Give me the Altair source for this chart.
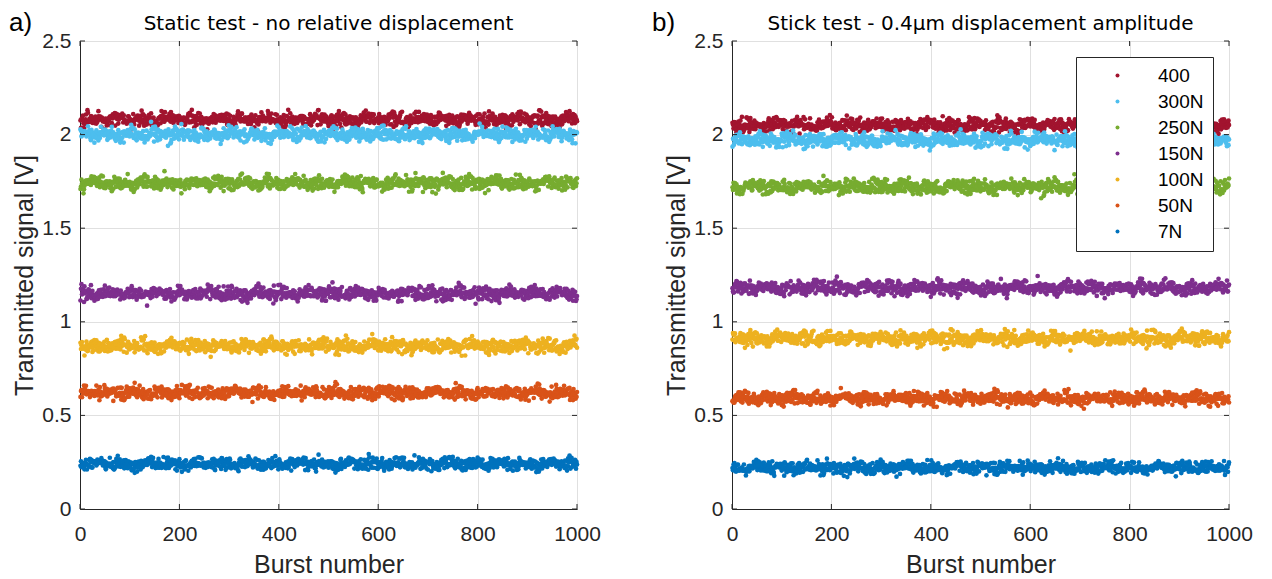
import altair as alt
import pandas as pd

# ---- data ----
SERIES = ["400", "300N", "250N", "150N", "100N", "50N", "7N"]
COLORS = ["#A2142F", "#4DBEEE", "#77AC30", "#7E2F8E", "#EDB120", "#D95319", "#0072BD"]
LEVELS_STATIC = [2.08, 2.00, 1.74, 1.15, 0.87, 0.62, 0.24]
LEVELS_STICK = [2.05, 1.97, 1.72, 1.18, 0.91, 0.59, 0.22]
SPREAD = [0.019, 0.019, 0.019, 0.019, 0.019, 0.018, 0.017]
N_BURSTS = 1000
X_TICKS = [0, 200, 400, 600, 800, 1000]
Y_TICKS = [0, 0.5, 1, 1.5, 2, 2.5]
TITLES = ["Static test - no relative displacement", "Stick test - 0.4\u03bcm displacement amplitude"]
LETTERS = ["a)", "b)"]
# hand-typed scatter deviations (in units of the band spread)
DEV = [
    0.31, -1.18, 0.77, -0.12, 1.46, -0.69, 0.04, -1.87, 0.58, 1.09,
    -0.41, 0.22, -0.93, 1.81, -0.27, 0.49, -1.42, 0.88, -0.61, 0.13,
    2.27, -0.19, -1.07, 0.71, -0.52, 1.29, -0.83, 0.38, -1.58, 0.02,
    0.97, -0.33, 0.63, -2.12, 0.18, 1.37, -0.88, -0.08, 0.81, -1.31,
    0.27, 1.69, -0.57, 0.46, -0.24, -0.99, 1.17, -0.44, 0.09, -1.66,
    0.91, 0.41, -0.72, 1.98, -0.47, -0.02, -1.21, 0.68, 1.12, -0.79,
    0.16, -0.36, 1.57, -1.49, 0.53, -0.11, 0.86, -0.64, -2.38, 1.26,
    0.34, -0.91, 0.59, -0.21, 1.02, -1.13, 0.07, 0.79, -0.38, 1.89,
    -0.74, 0.44, -1.77, 0.24, -0.54, 1.21, -0.14, 0.66, -1.02, -0.05,
    1.51, -0.29, -1.39, 0.61, -0.81, 1.06, 0.29, -0.58, 2.55, -0.16, 0.12,
]

W, H = 497, 468
INK = "#262626"
FONT = "Liberation Sans"
TITLE_FONT = "DejaVu Sans"


def build_points(levels, panel_no):
    n = len(DEV)
    rows = []
    for k, (name, lvl, sp) in enumerate(zip(SERIES, levels, SPREAD)):
        for i in range(N_BURSTS):
            a = DEV[(i * 7 + k * 13 + panel_no * 3) % n]
            b = DEV[(i * 11 + (i // n) * 17 + k * 29 + 5 + panel_no * 41) % n]
            rows.append({"burst": i + 1, "v": lvl + sp * (0.75 * a + 0.66 * b), "series": name})
    return pd.DataFrame(rows)


def panel(levels, idx, show_legend):
    df = build_points(levels, idx)
    if show_legend:
        leg = alt.Legend(
            title=None, orient="none", legendX=344, legendY=16,
            strokeColor=INK, fillColor="white", padding=9,
            symbolType="circle", symbolSize=16, symbolOffset=23,
            labelOffset=31, labelFontSize=19, labelFont=FONT,
            labelColor="black", rowPadding=6, cornerRadius=0,
        )
    else:
        leg = None
    x_enc = alt.X("burst:Q", scale=alt.Scale(domain=[0, 1000], nice=False),
                  axis=alt.Axis(values=X_TICKS, title="Burst number", labelFlush=False, format="d"))
    y_enc = alt.Y("v:Q", scale=alt.Scale(domain=[0, 2.5], nice=False),
                  axis=alt.Axis(values=Y_TICKS, title="Transmitted signal [V]", format="~g"))
    pts = alt.Chart(df).mark_circle(size=22, opacity=1).encode(
        x=x_enc, y=y_enc,
        color=alt.Color("series:N", scale=alt.Scale(domain=SERIES, range=COLORS),
                        sort=SERIES, legend=leg),
    )
    xt = pd.DataFrame({"t": X_TICKS})
    yt = pd.DataFrame({"t": Y_TICKS})
    tick_bottom = alt.Chart(xt).mark_rule(color=INK).encode(
        x="t:Q", y=alt.value(H - 5), y2=alt.value(H))
    tick_top = alt.Chart(xt).mark_rule(color=INK).encode(
        x="t:Q", y=alt.value(0), y2=alt.value(5))
    tick_left = alt.Chart(yt).mark_rule(color=INK).encode(
        y="t:Q", x=alt.value(0), x2=alt.value(5))
    tick_right = alt.Chart(yt).mark_rule(color=INK).encode(
        y="t:Q", x=alt.value(W - 5), x2=alt.value(W))
    letter = alt.Chart(pd.DataFrame({"t": [LETTERS[idx]]})).mark_text(
        align="left", baseline="alphabetic", fontSize=26, font=FONT, color="black"
    ).encode(text="t:N", x=alt.value(-71 if idx == 0 else -80), y=alt.value(-10))
    title = alt.Chart(pd.DataFrame({"t": [TITLES[idx]]})).mark_text(
        align="center", baseline="alphabetic", fontSize=20, font=TITLE_FONT, color="black"
    ).encode(text="t:N", x=alt.value(W / 2), y=alt.value(-11))
    return alt.layer(pts, tick_bottom, tick_top, tick_left, tick_right, letter, title).properties(
        width=W, height=H,
    )


left = panel(LEVELS_STATIC, 0, False)
right = panel(LEVELS_STICK, 1, True)

chart = alt.hconcat(left, right, spacing=50).resolve_scale(color="independent").properties(
    padding={"left": 0, "top": 1, "right": 0, "bottom": 0}
).configure_view(
    stroke=INK, strokeWidth=1
).configure_axis(
    grid=True, gridColor="#e0e0e0", gridWidth=1,
    domainColor=INK, ticks=False,
    labelFont=FONT, labelFontSize=21, labelColor=INK,
    titleFont=FONT, titleFontSize=25, titleColor=INK, titleFontWeight="normal",
).configure_axisX(labelPadding=14, titlePadding=8).configure_axisY(
    labelPadding=9, titlePadding=4
)

chart.save("out.html", embed_options={"renderer": "svg", "actions": False})
